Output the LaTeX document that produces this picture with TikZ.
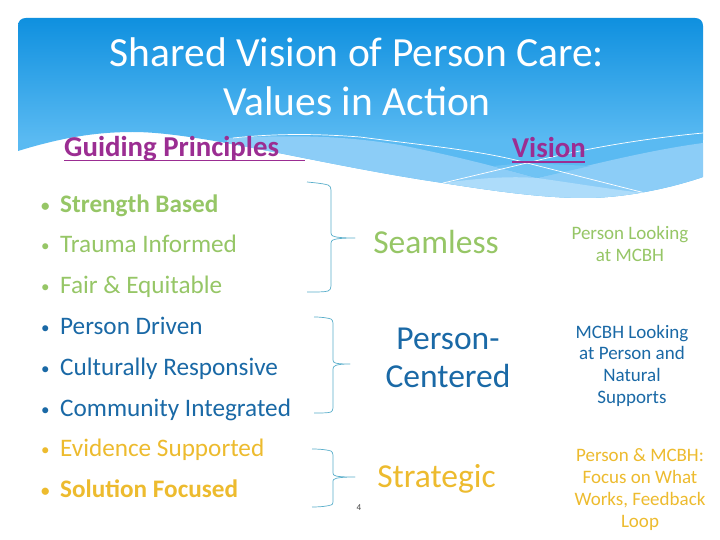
\documentclass[tikz,border=0pt]{standalone}
\usepackage{fontspec}
\setmainfont{Carlito}
\definecolor{hdtop}{HTML}{0F90DF}
\definecolor{hdbot}{HTML}{5ABAF2}
\definecolor{bandA}{HTML}{8CCDF7}
\definecolor{bandB}{HTML}{ADDCFA}
\definecolor{bandC}{HTML}{6FC3F4}
\definecolor{purp}{HTML}{9B2D92}
\definecolor{grn}{HTML}{96C666}
\definecolor{blu}{HTML}{1A69A6}
\definecolor{yel}{HTML}{EDBB2E}
\definecolor{brk}{HTML}{5AAFCB}
\tikzset{
  titletext/.style={text=white,font=\fontsize{41.5}{49}\selectfont,align=center,inner sep=0pt},
  headtext/.style={text=purp,font=\fontsize{28.8}{32}\selectfont\bfseries,anchor=base west,inner sep=0pt},
  item/.style={anchor=base west,inner sep=0pt,font=\fontsize{25.2}{29}\selectfont},
  bigword/.style={inner sep=0pt,align=center,font=\fontsize{33.5}{38}\selectfont},
  small/.style={inner sep=0pt,align=center,font=\fontsize{19}{21.7}\selectfont},
  bracket/.style={draw=brk,line width=0.7pt,line join=round},
  rule/.style={purp,line width=1.8pt},
}
\newcommand{\bul}{\makebox[19pt][l]{\raisebox{1pt}{\fontsize{17}{17}\selectfont •}}}
\begin{document}
\begin{tikzpicture}[x=1pt,y=-1pt]
\useasboundingbox (0,0) rectangle (720,540);
\fill[white] (0,0) rectangle (720,540);
% header shape
\begin{scope}
\clip (18,151) .. controls (60,138) and (95,132) .. (133,132)
  .. controls (200,132) and (320,165) .. (443,183)
  .. controls (500,192) and (545,198) .. (585,198)
  .. controls (620,198) and (665,190) .. (703,177)
  -- (703,26) .. controls (703,21) and (700,18) .. (695,18)
  -- (26,18) .. controls (21,18) and (18,21) .. (18,26) -- cycle;
\shade[top color=hdtop,bottom color=hdbot] (18,18) rectangle (703,140);
\fill[hdbot] (18,140) rectangle (703,200);
\fill[bandA] (227,138) .. controls (290,135) and (340,135) .. (400,145)
  .. controls (450,155) and (490,165) .. (537,178)
  .. controls (590,165) and (650,150) .. (703,143) -- (703,200) -- (227,200) -- cycle;
\fill[bandC] (493,166) -- (537,178) -- (590,166) -- (527,163) -- cycle;
\fill[bandB] (443,183) .. controls (480,178) and (510,176) .. (537,178)
  .. controls (580,184) and (615,190) .. (645,193) -- (645,205) -- (443,205) -- cycle;
\draw[white,line width=0.7pt] (233,138) .. controls (280,133) and (320,134) .. (360,137)
  .. controls (420,145) and (480,150) .. (527,163) -- (645,193);
\draw[white,line width=0.7pt] (443,183) -- (527,163) .. controls (590,147) and (650,138) .. (703,133);
\end{scope}
% title
\node[titletext] (title) at (357,77) {Shared Vision of Person Care:\\Values in Action};
% column headings
\node[headtext] (gp) at (64,157) {Guiding Principles};
\node[headtext] (vis) at (512,158) {Vision};
\draw[rule] (64,160.5) -- (305,160.5);
\draw[rule] (512,162) -- (585,162);
% list
\node[item,text=grn,font=\fontsize{25.2}{29}\selectfont\bfseries] (i1) at (41,212) {\bul Strength Based};
\node[item,text=grn] (i2) at (41,252) {\bul Trauma Informed};
\node[item,text=grn] (i3) at (41,293) {\bul Fair \& Equitable};
\node[item,text=blu] (i4) at (41,334) {\bul Person Driven};
\node[item,text=blu] (i5) at (41,375) {\bul Culturally Responsive};
\node[item,text=blu] (i6) at (41,416) {\bul Community Integrated};
\node[item,text=yel] (i7) at (41,456) {\bul Evidence Supported};
\node[item,text=yel,font=\fontsize{25.2}{29}\selectfont\bfseries] (i8) at (41,497) {\bul Solution Focused};
% braces
\draw[bracket] (307,182) .. controls (318,183) and (325,184) .. (328,185) .. controls (330,186) and (331,187) .. (331,190)
  -- (331,233) .. controls (331,236) and (333,238) .. (355,238) .. controls (333,238) and (331,240) .. (331,243)
  -- (331,286) .. controls (331,289) and (330,290) .. (328,291) .. controls (325,292) and (318,292) .. (307,292);
\draw[bracket] (314,317) .. controls (322,317) and (328,318) .. (331,319) .. controls (332,320) and (333,321) .. (333,323)
  -- (333,360) .. controls (333,363) and (335,364) .. (350,364) .. controls (335,364) and (333,366) .. (333,369)
  -- (333,408) .. controls (333,410) and (332,411) .. (331,412) .. controls (328,413) and (322,413) .. (314,413);
\draw[bracket] (312,449) .. controls (321,449) and (328,450) .. (331,451) .. controls (332,452) and (333,453) .. (333,455)
  -- (333,473) .. controls (333,476) and (335,477) .. (355,477) .. controls (335,477) and (333,479) .. (333,481)
  -- (333,502) .. controls (333,504) and (332,505) .. (331,505) .. controls (328,506) and (321,507) .. (312,507);
% middle column
\node[bigword,text=grn] (seam) at (436,242) {Seamless};
\node[bigword,text=blu] (pc) at (448,358) {Person-\\Centered};
\node[bigword,text=yel] (strat) at (436.5,479) {Strategic};
% right column
\node[small,text=grn] (r1) at (630,244) {Person Looking\\at MCBH};
\node[small,text=blu] (r2) at (632,365.5) {MCBH Looking\\at Person and\\Natural\\Supports};
\node[small,text=yel] (r3) at (640,489.5) {Person \& MCBH:\\Focus on What\\Works, Feedback\\Loop};
% page number
\node[inner sep=0pt,text=black!75,font=\fontsize{9}{10}\selectfont] (pg) at (359,508) {4};
\end{tikzpicture}
\end{document}
